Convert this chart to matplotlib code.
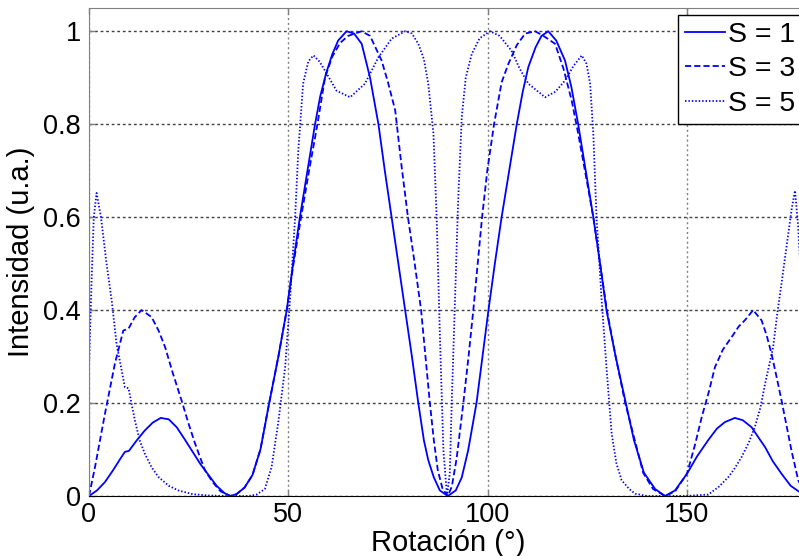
import matplotlib
matplotlib.use('Agg')
import matplotlib.pyplot as plt

plt.rcParams['font.family'] = ['Liberation Sans', 'DejaVu Sans']

# S = 1 (linea continua)
x_s1 = [0, 2, 4, 6, 8, 9, 10, 12, 14, 16, 18, 20, 22, 24, 26, 28, 30, 32, 34, 35.5,
        37, 39, 41, 43, 45.2, 47.5, 49.6, 51.2, 52.9, 54.8, 56.7, 58, 59.5, 61, 62.5,
        64.6, 66.5, 68.4, 70.5, 72.6, 74.2, 75.9, 77.6, 79.3, 81, 82.6, 84, 85.1, 86.5,
        88, 90, 92, 93.5, 95.1, 97.2, 98.7, 100.2, 101.8, 103.5, 105.4, 107.3, 108.8,
        110.2, 112, 113.5, 115.2, 117.2, 119.4, 121, 122.7, 124.6, 126.5, 128.2, 129.8,
        132.1, 134.4, 136.7, 139.2, 142, 144.5, 147, 150, 152.5, 155.3, 157.5, 159.5,
        162, 164, 166.2, 168, 169.6, 171.5, 173.7, 176, 178, 180]
y_s1 = [0, .012, .03, .055, .082, .095, .097, .12, .141, .158, .168, .165, .148, .122,
        .095, .068, .045, .022, .006, 0, .004, .018, .045, .10, .20, .30, .40, .50, .60,
        .70, .80, .86, .91, .95, .98, 1.0, .995, .973, .90, .80, .70, .60, .50, .40, .30,
        .20, .12, .077, .04, .012, 0, .012, .04, .098, .20, .30, .40, .50, .60, .70, .80,
        .87, .923, .965, .99, 1.0, .98, .937, .88, .80, .70, .60, .50, .40, .30, .21,
        .12, .05, .015, 0, .012, .048, .085, .12, .145, .159, .168, .163, .148, .125,
        .105, .075, .048, .022, .01, 0]

# S = 3 (discontinua)
x_s3 = [0, 1.5, 4, 6.5, 8.6, 9.9, 11.5, 13.2, 15.7, 17.5, 19.1, 21, 23.2, 25, 26.6, 28,
        29.1, 31, 33, 35.5, 37, 39, 41, 43, 45.2, 47.5, 49.6, 51.3, 53.2, 55.2, 57.3,
        59.2, 61, 63, 65, 68.4, 70.5, 73.4, 75, 76.8, 78.4, 80, 81.7, 83.3, 84.4, 85.5,
        86.5, 87.5, 88.7, 90, 91, 92.2, 93.9, 95.2, 96.4, 97.5, 98.6, 99.9, 101.6, 103.5,
        105.2, 107.3, 109.4, 111.9, 114, 116.9, 119, 121.1, 122.7, 124.4, 126.5, 128.2,
        129.9, 132.1, 134.5, 136.9, 139, 141.5, 144.5, 147, 150, 152, 153.7, 155.5, 157,
        159, 161.2, 163, 164.5, 166.6, 168.7, 170, 171.2, 172.5, 173.7, 175, 176.2,
        177.9, 180]
y_s3 = [0, .062, .177, .285, .356, .36, .385, .40, .385, .355, .32, .265, .206, .155,
        .113, .08, .055, .03, .01, 0, .004, .018, .045, .10, .20, .30, .40, .50, .60,
        .70, .80, .90, .945, .975, .99, 1.0, .99, .937, .89, .83, .71, .60, .50, .40, .30,
        .20, .12, .055, .015, 0, .02, .08, .20, .30, .40, .50, .60, .70, .80, .89, .93,
        .97, .995, 1.0, .99, .973, .92, .85, .78, .70, .60, .50, .40, .30, .20, .12, .05,
        .015, 0, .01, .048, .11, .17, .225, .277, .315, .342, .365, .378, .40, .378,
        .345, .306, .255, .206, .15, .098, .034, 0]

# S = 5 (punteada)
x_s5 = [0, 0.6, 1.2, 1.9, 3, 4.4, 5.7, 6.9, 8.2, 9, 9.9, 11.5, 12.7, 14, 15.7, 17.4, 20,
        22.4, 26, 30, 35, 40, 42, 44.1, 45.8, 47.5, 49.2, 50.4, 51.7, 52.5, 53.7, 55,
        56.3, 57.8, 59.2, 62.1, 65.5, 69.2, 72.6, 75.9, 79.3, 81, 82.6, 84, 85.1, 86.4,
        87.2, 88, 88.9, 89.8, 90.5, 91, 91.8, 92.6, 93.5, 94.5, 96, 98, 100.6, 103, 106,
        108, 110.2, 114.4, 117, 119.4, 121.5, 123.6, 124.8, 125.7, 126.5, 127.3, 128.6,
        129.8, 131.1, 132.3, 133.6, 135.5, 137, 140, 150, 153, 155.3, 158, 160.4, 162,
        163.7, 165.5, 167, 168.4, 169.6, 171.6, 172.6, 173.7, 175.4, 176.3, 177.1,
        177.9, 178.7, 180]
y_s5 = [.275, .45, .60, .652, .60, .50, .42, .328, .27, .234, .232, .163, .12, .091, .062,
        .041, .022, .012, .004, .001, 0, 0, .003, .015, .062, .16, .277, .42, .60, .743,
        .887, .935, .948, .935, .915, .872, .858, .887, .944, .984, 1.0, .995, .973, .94,
        .887, .78, .60, .35, .098, 0, .05, .206, .42, .636, .815, .90, .951, .985, 1.0,
        .99, .958, .92, .887, .858, .87, .894, .925, .948, .93, .887, .78, .60, .42, .277,
        .134, .07, .034, .015, .005, 0, 0, .002, .003, .02, .041, .06, .084, .115, .148,
        .19, .242, .32, .39, .457, .564, .62, .657, .578, .45, .275]

labels = ['S = 1', 'S = 3', 'S = 5']

fig = plt.figure(figsize=(7.99, 5.56), dpi=100)
ax = fig.add_axes([89 / 799, 60 / 556, 717.6 / 799, 488 / 556])

lw = 1.3
ax.plot(x_s1, y_s1, color='#0000ff', lw=lw, label=labels[0])
ax.plot(x_s3, y_s3, color='#0000ff', lw=lw, ls=(0, (3.4, 1.7)), label=labels[1])
ax.plot(x_s5, y_s5, color='#0000ff', lw=lw, ls=(0, (0.8, 1.1)), label=labels[2])

ax.set_xlim(0, 180)
ax.set_ylim(0, 1.05)
ax.set_xticks([0, 50, 100, 150])
ax.set_yticks([0, 0.2, 0.4, 0.6, 0.8, 1])
ax.set_yticklabels(['0', '0.2', '0.4', '0.6', '0.8', '1'])

# rejilla estilo matlab
ax.xaxis.grid(True, color='#808080', ls=(0, (1.5, 2)), lw=1)
ax.yaxis.grid(True, color='#404040', ls=(0, (2, 2)), lw=1)
ax.set_axisbelow(True)

ax.tick_params(direction='in', length=4, width=1, color='#808080',
               labelsize=19.5, pad=6, top=True, right=True)
ax.tick_params(axis='x', pad=4)
for side in ['left', 'top', 'right']:
    ax.spines[side].set_color('#808080')
ax.spines['bottom'].set_color('black')

ax.set_xlabel('Rotación (°)', fontsize=21)
ax.set_ylabel('Intensidad (u.a.)', fontsize=21)
ax.xaxis.set_label_coords(0.5, -(529 - 496) / 488)
ax.yaxis.set_label_coords((35 - 89) / 717.6, 0.5)

leg = ax.legend(loc='upper left', bbox_to_anchor=(677.7 / 799, 1 - 14.7 / 556),
                bbox_transform=fig.transFigure, borderaxespad=0, fontsize=20.5,
                fancybox=False, framealpha=1, edgecolor='black',
                handlelength=1.4, handletextpad=0.12, labelspacing=0.3, borderpad=0.25)
leg.get_frame().set_linewidth(1)

fig.savefig('out.png', dpi=100)
